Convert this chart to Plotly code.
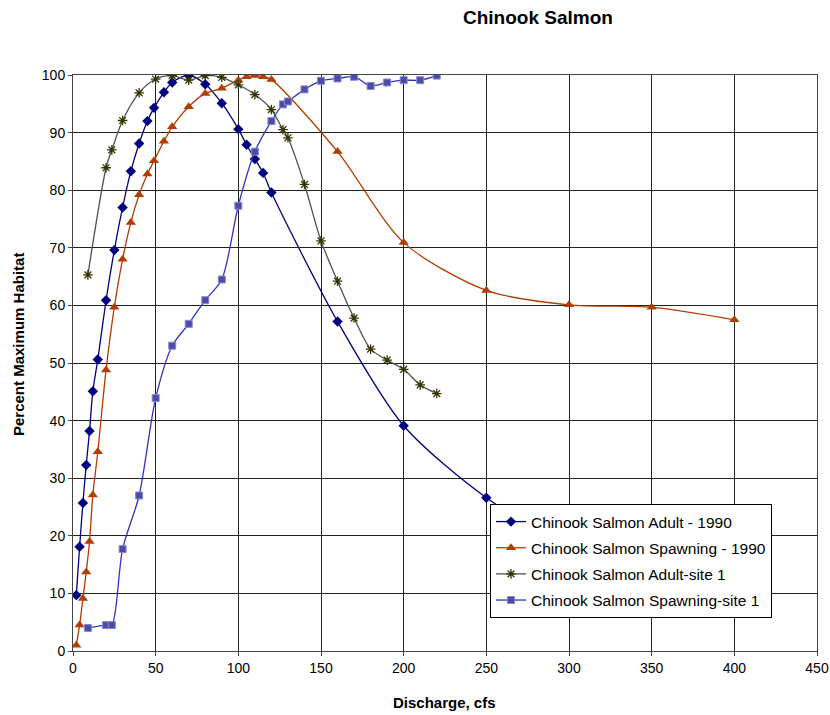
import plotly.graph_objects as go

# ---- data ----
adult_1990_x = [2, 4, 6, 8, 10, 12, 15, 20, 25, 30, 35, 40, 45, 49, 55, 60, 70, 80, 90, 100, 105, 110, 115, 120, 160, 200, 250, 300]
adult_1990_y = [9.7, 18.1, 25.7, 32.3, 38.2, 45.1, 50.6, 60.9, 69.6, 77.0, 83.3, 88.1, 92.0, 94.3, 97.0, 98.7, 100.0, 98.4, 95.1, 90.6, 87.9, 85.4, 83.0, 79.6, 57.2, 39.1, 26.6, 18.0]

spawn_1990_x = [2, 4, 6, 8, 10, 12, 15, 20, 25, 30, 35, 40, 45, 49, 55, 60, 70, 80, 90, 100, 105, 110, 115, 120, 160, 200, 250, 300, 350, 400]
spawn_1990_y = [1.0, 4.5, 9.1, 13.7, 19.0, 27.1, 34.6, 48.8, 59.7, 68.0, 74.4, 79.2, 82.8, 85.1, 88.5, 91.0, 94.5, 96.8, 97.7, 99.1, 99.7, 99.9, 99.7, 99.2, 86.7, 70.9, 62.6, 60.1, 59.7, 57.5]

adult_site1_x = [9, 20, 23.5, 30, 40, 50, 60, 70, 80, 90, 100, 110, 120, 127, 130, 140, 150, 160, 170, 180, 190, 200, 210, 220]
adult_site1_y = [65.3, 83.9, 87.0, 92.1, 96.9, 99.3, 99.9, 99.1, 99.9, 99.6, 98.3, 96.6, 94.0, 90.5, 89.1, 81.0, 71.2, 64.2, 57.8, 52.4, 50.5, 48.9, 46.2, 44.7]

spawn_site1_x = [9, 20, 23.5, 30, 40, 50, 60, 70, 80, 90, 100, 110, 120, 127, 130, 140, 150, 160, 170, 180, 190, 200, 210, 220]
spawn_site1_y = [4.0, 4.5, 4.5, 17.7, 27.0, 43.9, 53.0, 56.8, 60.9, 64.5, 77.3, 86.7, 92.0, 94.9, 95.4, 97.5, 99.0, 99.4, 99.7, 98.1, 98.7, 99.1, 99.1, 99.9]

series_names = ["Chinook Salmon Adult - 1990", "Chinook Salmon Spawning - 1990",
                "Chinook Salmon Adult-site 1", "Chinook Salmon Spawning-site 1"]

x_ticks = [0, 50, 100, 150, 200, 250, 300, 350, 400, 450]
y_ticks = [0, 10, 20, 30, 40, 50, 60, 70, 80, 90, 100]

FONT = "Liberation Sans, Arial, sans-serif"

fig = go.Figure()

fig.add_trace(go.Scatter(
    x=adult_1990_x, y=adult_1990_y, name=series_names[0], mode="lines+markers",
    line=dict(color="#000080", width=1.3, shape="spline", smoothing=0.8),
    marker=dict(symbol="diamond", size=8, color="#000080"),
    legendgroup="a"))
fig.add_trace(go.Scatter(
    x=spawn_1990_x, y=spawn_1990_y, name=series_names[1], mode="lines+markers",
    line=dict(color="#B33C00", width=1.3, shape="spline", smoothing=0.8),
    marker=dict(symbol="triangle-up", size=9, color="#B33C00"),
    legendgroup="b"))
fig.add_trace(go.Scatter(
    x=adult_site1_x, y=adult_site1_y, name=series_names[2], mode="lines+markers",
    line=dict(color="#505050", width=1.3, shape="spline", smoothing=0.8),
    marker=dict(symbol="asterisk", size=8, color="#333300", line=dict(color="#333300", width=1.3)),
    legendgroup="c"))
fig.add_trace(go.Scatter(
    x=spawn_site1_x, y=spawn_site1_y, name=series_names[3], mode="lines+markers",
    line=dict(color="#3333BB", width=1.3, shape="spline", smoothing=0.8),
    marker=dict(symbol="square", size=7, color="#4C4CA8", line=dict(color="#8888CC", width=1)),
    legendgroup="d"))

# body margin is removed below; plot area on page: x 73..817, y 75..651
L, T, R, B = 73, 75, 13, 64
W, H = 830, 715


def px(xp):
    return (xp - 73) / 744.0


def py(yp):
    return (651 - yp) / 576.0


fig.update_layout(
    width=W, height=H,
    paper_bgcolor="white", plot_bgcolor="white",
    margin=dict(l=L, r=R, t=T, b=B, autoexpand=False),
    font=dict(family=FONT, size=14, color="black"),
    showlegend=True,
    hovermode=False,
    legend=dict(
        x=px(490), y=py(504), xanchor="left", yanchor="top",
        bgcolor="white", bordercolor="black", borderwidth=1,
        font=dict(family=FONT, size=15.5, color="black"),
        tracegroupgap=3,
    ),
    annotations=[
        dict(text="<b>Chinook Salmon</b>", xref="paper", yref="paper",
             x=px(537.5), y=py(17.5), xanchor="center", yanchor="middle",
             showarrow=False, font=dict(family=FONT, size=19, color="black")),
        dict(text="<b>Discharge, cfs</b>", xref="paper", yref="paper",
             x=px(444), y=py(702), xanchor="center", yanchor="middle",
             showarrow=False, font=dict(family=FONT, size=15, color="black")),
        dict(text="<b>Percent Maximum Habitat</b>", xref="paper", yref="paper",
             x=px(18), y=py(345), xanchor="center", yanchor="middle", textangle=-90,
             showarrow=False, font=dict(family=FONT, size=15, color="black")),
    ],
)

fig.update_xaxes(
    range=[0, 450], tickvals=x_ticks, ticktext=[str(v) for v in x_ticks],
    showgrid=True, gridcolor="#222222", gridwidth=1,
    showline=True, linecolor="#444444", linewidth=1, mirror=True,
    ticks="outside", ticklen=4, tickcolor="#444444",
    tickfont=dict(family=FONT, size=14, color="black"),
    zeroline=False, automargin=False,
)
fig.update_yaxes(
    range=[0, 100], tickvals=y_ticks, ticktext=[str(v) for v in y_ticks],
    showgrid=True, gridcolor="#222222", gridwidth=1,
    showline=True, linecolor="#444444", linewidth=1, mirror=True,
    ticks="outside", ticklen=4, tickcolor="#444444",
    tickfont=dict(family=FONT, size=14, color="black"),
    zeroline=False, automargin=False,
)

fig.write_html(
    "out.html",
    config={"displayModeBar": False},
    post_script=("document.body.style.margin='0';document.body.style.padding='0';"
                 "document.documentElement.style.overflow='hidden';document.body.style.overflow='hidden';"),
)
